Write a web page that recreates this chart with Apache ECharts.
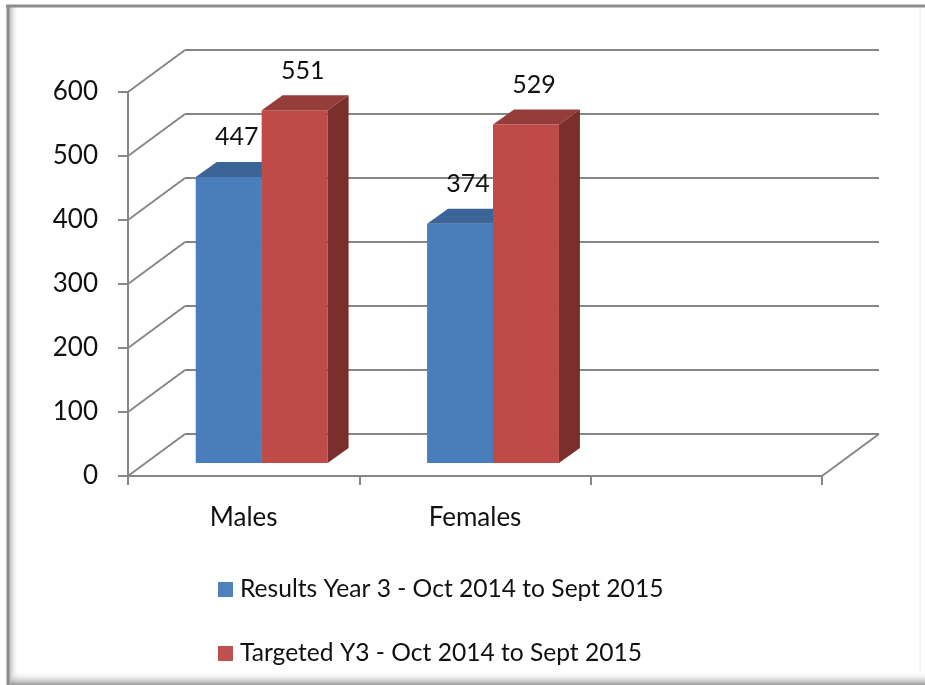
<!DOCTYPE html>
<html>
<head>
<meta charset="utf-8">
<script src="https://cdn.jsdelivr.net/npm/echarts@6/dist/echarts.min.js"></script>
<style>
  html, body { margin: 0; padding: 0; background: #fff; }
  #chart { width: 925px; height: 685px; }
</style>
</head>
<body>
<div id="chart"></div>
<script>
var categories = ["Males", "Females", ""];
var results = [447, 374];
var targets = [551, 529];
var yTicks = [0, 100, 200, 300, 400, 500, 600];
var seriesNames = [
  "Results Year 3 - Oct 2014 to Sept 2015",
  "Targeted Y3 - Oct 2014 to Sept 2015"
];

var FONT = "Lato, 'Open Sans', sans-serif";
var AXIS = "#868686";
// wall depth and bar placement inside the floor
var WALL_DX = 57, WALL_DY = -42;
var BAR_FX = 18, BAR_FY = -13;
var BAR_DX = 21, BAR_DY = -15;

function toPairs(arr) {
  return arr.map(function (v, i) { return [i, v]; });
}

function barRenderer(side, front, top, right) {
  return function (params, api) {
    var c = api.value(0), v = api.value(1);
    var base = api.coord([c, 0]);
    var head = api.coord([c, v]);
    var band = api.size([1, 0])[0];
    var w = band * 0.285;
    var x0 = base[0] + (side === 0 ? -w : 0) + BAR_FX;
    var x1 = x0 + w;
    var yb = base[1] + BAR_FY;
    var yt = head[1] + BAR_FY;
    return {
      type: "group",
      children: [
        { type: "polygon", shape: { points: [[x0, yt], [x1, yt], [x1, yb], [x0, yb]] }, style: { fill: front } },
        { type: "polygon", shape: { points: [[x0, yt], [x1, yt], [x1 + BAR_DX, yt + BAR_DY], [x0 + BAR_DX, yt + BAR_DY]] }, style: { fill: top } },
        { type: "polygon", shape: { points: [[x1, yt], [x1 + BAR_DX, yt + BAR_DY], [x1 + BAR_DX, yb + BAR_DY], [x1, yb]] }, style: { fill: right } },
        {
          type: "text",
          style: {
            text: String(v),
            x: (x0 + x1) / 2 + 8,
            y: yt + BAR_DY - 12,
            textAlign: "center", align: "center",
            textVerticalAlign: "bottom", verticalAlign: "bottom",
            font: "25px " + FONT,
            fill: "#111"
          }
        }
      ]
    };
  };
}

var myChart = echarts.init(document.getElementById("chart"));

var option = {
  animation: false,
  backgroundColor: "#fff",
  graphic: [
    { type: "rect", shape: { x: 9, y: 7, width: 10, height: 678 }, silent: true,
      style: { fill: new echarts.graphic.LinearGradient(0, 0, 1, 0, [
        { offset: 0, color: "#b4b4b4" }, { offset: 1, color: "rgba(255,255,255,0)" }]) } },
    { type: "rect", shape: { x: 10, y: 671, width: 915, height: 14 }, silent: true,
      style: { fill: new echarts.graphic.LinearGradient(0, 0, 0, 1, [
        { offset: 0, color: "rgba(255,255,255,0)" }, { offset: 1, color: "#9a9a9a" }]) } },
    { type: "line", shape: { x1: 6, y1: 6, x2: 925, y2: 6 }, silent: true, style: { stroke: "#8c8c8c", lineWidth: 3 } },
    { type: "line", shape: { x1: 8, y1: 5, x2: 8, y2: 685 }, silent: true, style: { stroke: "#8c8c8c", lineWidth: 3 } },
    { type: "line", shape: { x1: 920, y1: 8, x2: 920, y2: 672 }, silent: true, style: { stroke: "#ececec", lineWidth: 1 } }
  ],
  legend: {
    orient: "vertical",
    left: 218,
    top: 577,
    padding: 0,
    itemWidth: 15,
    itemHeight: 15,
    itemGap: 39,
    icon: "rect",
    data: seriesNames,
    textStyle: { fontFamily: FONT, fontSize: 24.6, color: "#111", padding: [0, 0, 0, 2] }
  },
  grid: [
    { left: 128, top: 92, width: 694, height: 384 },
    { left: 128 + WALL_DX, top: 92 + WALL_DY, width: 694, height: 384 }
  ],
  xAxis: [
    {
      type: "category",
      gridIndex: 0,
      data: categories,
      axisLine: { lineStyle: { color: AXIS, width: 2 } },
      axisTick: { show: true, length: 9, lineStyle: { color: AXIS, width: 2 } },
      axisLabel: { fontFamily: FONT, fontSize: 26, color: "#111", margin: 29 }
    },
    { type: "category", gridIndex: 1, data: categories, show: false }
  ],
  yAxis: [
    {
      type: "value",
      gridIndex: 0,
      min: 0, max: 600, interval: 100,
      axisLine: { show: true, lineStyle: { color: AXIS, width: 2 } },
      axisTick: { show: true, length: 10, lineStyle: { color: AXIS, width: 2 } },
      axisLabel: { fontFamily: FONT, fontSize: 26, color: "#111", margin: 30 },
      splitLine: { show: false }
    },
    {
      type: "value",
      gridIndex: 1,
      min: 0, max: 600, interval: 100,
      axisLine: { show: false },
      axisTick: { show: false },
      axisLabel: { show: false },
      splitLine: { show: true, lineStyle: { color: AXIS, width: 2 } }
    }
  ],
  series: [
    {
      name: "wall-diagonals",
      type: "custom",
      xAxisIndex: 0, yAxisIndex: 0,
      silent: true,
      data: yTicks.map(function (v) { return [0, v]; }),
      renderItem: function (params, api) {
        var x = params.coordSys.x;
        var y = api.coord([0, api.value(1)])[1];
        return { type: "line", shape: { x1: x, y1: y, x2: x + WALL_DX, y2: y + WALL_DY },
          style: { stroke: AXIS, lineWidth: 2 } };
      }
    },
    {
      name: "floor-edge",
      type: "custom",
      xAxisIndex: 0, yAxisIndex: 0,
      silent: true,
      data: [[2, 0]],
      renderItem: function (params, api) {
        var x = params.coordSys.x + params.coordSys.width;
        var y = api.coord([2, 0])[1];
        return { type: "line", shape: { x1: x, y1: y, x2: x + WALL_DX, y2: y + WALL_DY },
          style: { stroke: AXIS, lineWidth: 2 } };
      }
    },
    {
      name: seriesNames[0],
      type: "custom",
      xAxisIndex: 0, yAxisIndex: 0,
      itemStyle: { color: "#4F81BD" },
      data: toPairs(results),
      renderItem: barRenderer(0, "#4A7EBB", "#3B6597", "#2F4F78"),
      z: 3
    },
    {
      name: seriesNames[1],
      type: "custom",
      xAxisIndex: 0, yAxisIndex: 0,
      itemStyle: { color: "#C0504D" },
      data: toPairs(targets),
      renderItem: barRenderer(1, "#BE4B48", "#943D3B", "#7A2F2D"),
      z: 4
    }
  ]
};

myChart.setOption(option);
</script>
</body>
</html>
